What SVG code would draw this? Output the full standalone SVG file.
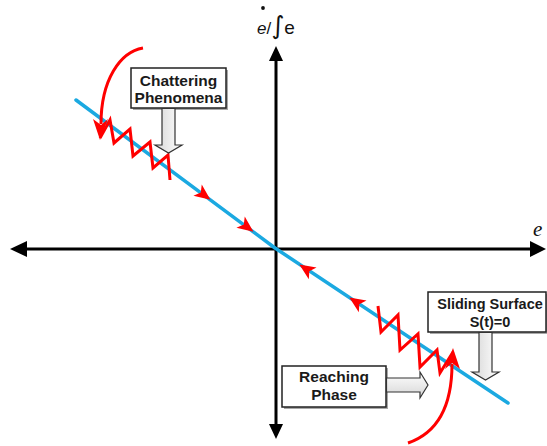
<svg xmlns="http://www.w3.org/2000/svg" xmlns:xlink="http://www.w3.org/1999/xlink" width="547" height="446" viewBox="0 0 547 446">
  <style>
    .axis { stroke: #000; stroke-width: 3; fill: none; }
    .axhead { fill: #000; }
    .surf { stroke: #1BA9E1; stroke-width: 3.5; fill: none; stroke-linecap: round; stroke-linejoin: round; }
    .red { stroke: #FF0000; stroke-width: 3; fill: none; stroke-linejoin: miter; }
    .redfill { fill: #FF0000; }
    .box { fill: #fff; stroke: #222; stroke-width: 1.5; }
    .shadow { fill: #a8a8a8; }
    .lbl { font-family: "Liberation Sans", Arial, sans-serif; font-weight: bold; fill: #1a1a1a; text-anchor: middle; }
    .blk { stroke: #333; stroke-width: 1.2; stroke-linejoin: miter; }
  </style>
  <defs>
    <path id="tri" d="M8,0 L-8,-7 L-4,0 L-8,7 Z" fill="#FF0000"/>
    <linearGradient id="gH" x1="0" y1="0" x2="1" y2="0">
      <stop offset="0" stop-color="#d6d6d6"/>
      <stop offset="1" stop-color="#ffffff"/>
    </linearGradient>
    <linearGradient id="gV" x1="0" y1="0" x2="0" y2="1">
      <stop offset="0" stop-color="#ffffff"/>
      <stop offset="1" stop-color="#d6d6d6"/>
    </linearGradient>
  </defs>

  <!-- axes -->
  <g id="axes">
    <line class="axis" x1="24" y1="249" x2="532" y2="249"/>
    <polygon class="axhead" points="10,249 27,241 27,257"/>
    <polygon class="axhead" points="546,249 530,241 530,257"/>
    <line class="axis" x1="276" y1="58" x2="276" y2="426"/>
    <polygon class="axhead" points="276,46 269,61 283,61"/>
    <polygon class="axhead" points="276,439 269,424 283,424"/>
    <text x="533" y="236" font-family="Liberation Serif, serif" font-style="italic" font-size="21" fill="#111">e</text>
    <circle cx="263" cy="8" r="1.9" fill="#111"/>
    <text x="257" y="34" font-family="Liberation Sans, Arial, sans-serif" font-size="17" fill="#111"><tspan font-style="italic">e</tspan>/<tspan font-family="DejaVu Sans, sans-serif" font-size="25">∫</tspan><tspan font-size="19">e</tspan></text>
  </g>

  <!-- sliding surface and trajectories -->
  <g id="connectors">
    <polyline class="surf" points="76,100 275,248 508,403"/>
    <use xlink:href="#tri" transform="translate(204,195) rotate(36.6)"/>
    <use xlink:href="#tri" transform="translate(247,227) rotate(36.6)"/>
    <use xlink:href="#tri" transform="translate(306,269) rotate(213.6)"/>
    <use xlink:href="#tri" transform="translate(356,302) rotate(213.6)"/>

    <!-- upper reaching curve + chattering -->
    <path class="red" d="M143,48 C120,52 101,80 101,124"/>
    <path class="redfill" d="M100,140 L93,119 L101,125 L108,119 Z"/>
    <polyline class="red" points="100,138 110,120 114,143 130,129 133,156 150,142 153,168 168,155 170,180"/>

    <!-- lower reaching curve + chattering -->
    <path class="red" d="M408,443 C440,432 452,402 452,364"/>
    <path class="redfill" d="M453,348 L445,369 L452,363 L460,369 Z"/>
    <polyline class="red" points="378,306 381,332 398,315 400,350 418,334 420,367 437,350 440,373 453,352"/>
  </g>

  <g id="chattering">
    <rect class="shadow" x="133" y="70" width="95" height="40"/>
    <rect class="box" x="131" y="68" width="95" height="40"/>
    <text class="lbl" x="178.5" y="86" font-size="15.5">Chattering</text>
    <text class="lbl" x="178.5" y="103" font-size="15.5">Phenomena</text>
    <polygon class="blk" fill="url(#gH)" points="162,108.5 175,108.5 175,145 182,145 168.5,153 155,145 162,145"/>
  </g>

  <g id="sliding">
    <rect class="shadow" x="430" y="294" width="118" height="40"/>
    <rect class="box" x="428" y="292" width="118" height="40"/>
    <text class="lbl" x="490" y="309" font-size="14.5">Sliding Surface</text>
    <text class="lbl" x="490" y="327" font-size="14.5">S(t)=0</text>
    <polygon class="blk" fill="url(#gH)" points="479,332.5 492,332.5 492,372 499,372 485.5,380 472,372 479,372"/>
  </g>

  <g id="reaching">
    <rect class="shadow" x="284" y="368" width="104" height="41"/>
    <rect class="box" x="282" y="366" width="104" height="41"/>
    <text class="lbl" x="334" y="382" font-size="15.5">Reaching</text>
    <text class="lbl" x="334" y="400" font-size="15.5">Phase</text>
    <polygon class="blk" fill="url(#gV)" points="386.5,378 420,378 420,372 428,385 420,398 420,392 386.5,392"/>
  </g>
</svg>
